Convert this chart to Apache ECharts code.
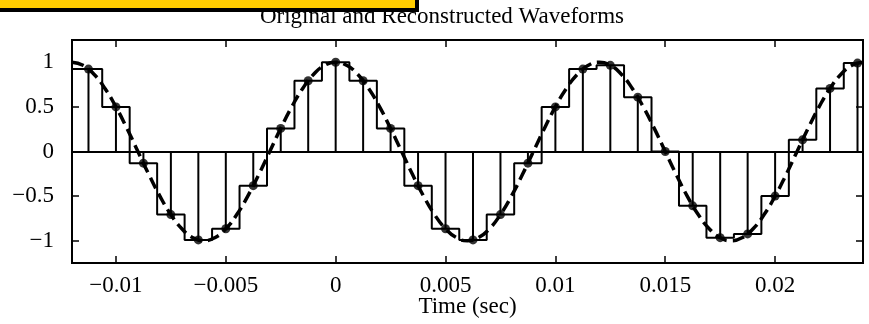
<!DOCTYPE html>
<html>
<head>
<meta charset="utf-8">
<script src="https://cdn.jsdelivr.net/npm/echarts@6/dist/echarts.min.js"></script>
<style>
  html, body { margin: 0; padding: 0; background: #fff; }
  #chart { width: 869px; height: 324px; }
</style>
</head>
<body>
<div id="chart"></div>
<script>
// original waveform (dashed), every 0.5 ms
const curveTime = [
  -0.012, -0.0115, -0.011, -0.0105, -0.01, -0.0095, -0.009, -0.0085, -0.008, -0.0075, -0.007, -0.0065,
  -0.006, -0.0055, -0.005, -0.0045, -0.004, -0.0035, -0.003, -0.0025, -0.002, -0.0015, -0.001, -0.0005,
  0, 0.0005, 0.001, 0.0015, 0.002, 0.0025, 0.003, 0.0035, 0.004, 0.0045, 0.005, 0.0055,
  0.006, 0.0065, 0.007, 0.0075, 0.008, 0.0085, 0.009, 0.0095, 0.01, 0.0105, 0.011, 0.0115,
  0.012, 0.0125, 0.013, 0.0135, 0.014, 0.0145, 0.015, 0.0155, 0.016, 0.0165, 0.017, 0.0175,
  0.018, 0.0185, 0.019, 0.0195, 0.02, 0.0205, 0.021, 0.0215, 0.022, 0.0225, 0.023, 0.0235,
  0.024
];
const curveValue = [
  1, 0.966, 0.866, 0.707, 0.5, 0.259, 0, -0.259, -0.5, -0.707, -0.866, -0.966,
  -1, -0.966, -0.866, -0.707, -0.5, -0.259, 0, 0.259, 0.5, 0.707, 0.866, 0.966,
  1, 0.966, 0.866, 0.707, 0.5, 0.259, 0, -0.259, -0.5, -0.707, -0.866, -0.966,
  -1, -0.966, -0.866, -0.707, -0.5, -0.259, 0, 0.259, 0.5, 0.707, 0.866, 0.966,
  1, 0.966, 0.866, 0.707, 0.5, 0.259, 0, -0.259, -0.5, -0.707, -0.866, -0.966,
  -1, -0.966, -0.866, -0.707, -0.5, -0.259, 0, 0.259, 0.5, 0.707, 0.866, 0.966,
  1
];

// samples (dots + stems), every 1.25 ms
const sampleTime = [
  -0.01125, -0.01, -0.00875, -0.0075, -0.00625, -0.005, -0.00375, -0.0025, -0.00125,
  0, 0.00125, 0.0025, 0.00375, 0.005, 0.00625, 0.0075, 0.00875, 0.01, 0.01125,
  0.0125, 0.01375, 0.015, 0.01625, 0.0175, 0.01875, 0.02, 0.02125, 0.0225, 0.02375
];
const sampleValue = [
  0.924, 0.5, -0.131, -0.707, -0.991, -0.866, -0.383, 0.259, 0.793,
  1, 0.793, 0.259, -0.383, -0.866, -0.991, -0.707, -0.131, 0.5, 0.924,
  0.966, 0.609, 0, -0.609, -0.966, -0.924, -0.5, 0.131, 0.707, 0.991
];

const xTicks = [-0.01, -0.005, 0, 0.005, 0.01, 0.015, 0.02];
const yTicks = [-1, -0.5, 0, 0.5, 1];

const FONT = 'Liberation Serif';
const chart = echarts.init(document.getElementById('chart'));

const samplePts = sampleTime.map((t, i) => [t, sampleValue[i]]);
// hold steps run to both edges of the plot
const holdPts = [[-0.012, sampleValue[0]]].concat(samplePts, [[0.024, sampleValue[sampleValue.length - 1]]]);
const curvePts = curveTime.map((t, i) => [t, curveValue[i]]);

const minus = v => String(v).replace('-', '\u2212');
const tickStyle = { show: true, inside: true, length: 7, lineStyle: { color: '#000', width: 1.5 } };
const noLine = { show: false, onZero: false };

const option = {
    animation: false,
    backgroundColor: '#fff',
    grid: {
        left: 72, right: 6, top: 40, bottom: 61,
        outerBoundsMode: 'none', containLabel: false,
        show: true, borderColor: '#000', borderWidth: 2
    },
    xAxis: [{
        type: 'value', min: -0.012, max: 0.024, position: 'bottom',
        name: 'Time (sec)', nameLocation: 'middle', nameGap: 32, nameMoveOverlap: false,
        nameTextStyle: { fontFamily: FONT, fontSize: 23, color: '#000' },
        axisLine: noLine,
        axisTick: Object.assign({ customValues: xTicks }, tickStyle),
        axisLabel: { customValues: xTicks, formatter: minus, margin: 11, fontFamily: FONT, fontSize: 23, color: '#000' },
        splitLine: { show: false }
    }, {
        type: 'value', min: -0.012, max: 0.024, position: 'top',
        axisLine: noLine,
        axisTick: Object.assign({ customValues: xTicks }, tickStyle),
        axisLabel: { show: false },
        splitLine: { show: false }
    }],
    yAxis: [{
        type: 'value', min: -1.25, max: 1.25, position: 'left',
        axisLine: noLine,
        axisTick: Object.assign({ customValues: yTicks }, tickStyle),
        axisLabel: { customValues: yTicks, formatter: minus, margin: 18, padding: [6, 0, 0, 0],
                     fontFamily: FONT, fontSize: 23, color: '#000' },
        splitLine: { show: false }
    }, {
        type: 'value', min: -1.25, max: 1.25, position: 'right',
        axisLine: noLine,
        axisTick: Object.assign({ customValues: yTicks }, tickStyle),
        axisLabel: { show: false },
        splitLine: { show: false }
    }],
    series: [{
        // zero-order hold staircase
        type: 'line', data: holdPts, step: 'middle', showSymbol: false,
        lineStyle: { color: '#000', width: 2 },
        z: 2,
        markLine: {
            silent: true, symbol: 'none', label: { show: false },
            lineStyle: { color: '#000', width: 2, type: 'solid' },
            data: [{ yAxis: 0 }]
        }
    }, {
        // stems from zero to each sample
        type: 'custom', data: samplePts, z: 3,
        renderItem: (params, api) => {
            const p0 = api.coord([api.value(0), 0]);
            const p1 = api.coord([api.value(0), api.value(1)]);
            return {
                type: 'line',
                shape: { x1: p0[0], y1: p0[1], x2: p1[0], y2: p1[1] },
                style: { stroke: '#000', lineWidth: 2 }
            };
        }
    }, {
        // original signal
        type: 'line', data: curvePts, smooth: true, showSymbol: false, z: 4,
        lineStyle: { color: '#000', width: 3.5, type: [12, 6] }
    }, {
        type: 'scatter', data: samplePts, symbolSize: 9, z: 5,
        itemStyle: { color: '#000' }
    }],
    graphic: [{
        type: 'text', z: 10,
        style: { text: 'Original and Reconstructed Waveforms', x: 442, y: 17, textAlign: 'center', textVerticalAlign: 'middle',
                 font: '23px "Liberation Serif"', fill: '#000' }
    }, {
        type: 'rect', z: 20, shape: { x: 0, y: 0, width: 419, height: 12 }, style: { fill: '#000' }
    }, {
        type: 'rect', z: 21, shape: { x: 0, y: 0, width: 415, height: 8 }, style: { fill: '#ffcc00' }
    }]
};

chart.setOption(option);
</script>
</body>
</html>
